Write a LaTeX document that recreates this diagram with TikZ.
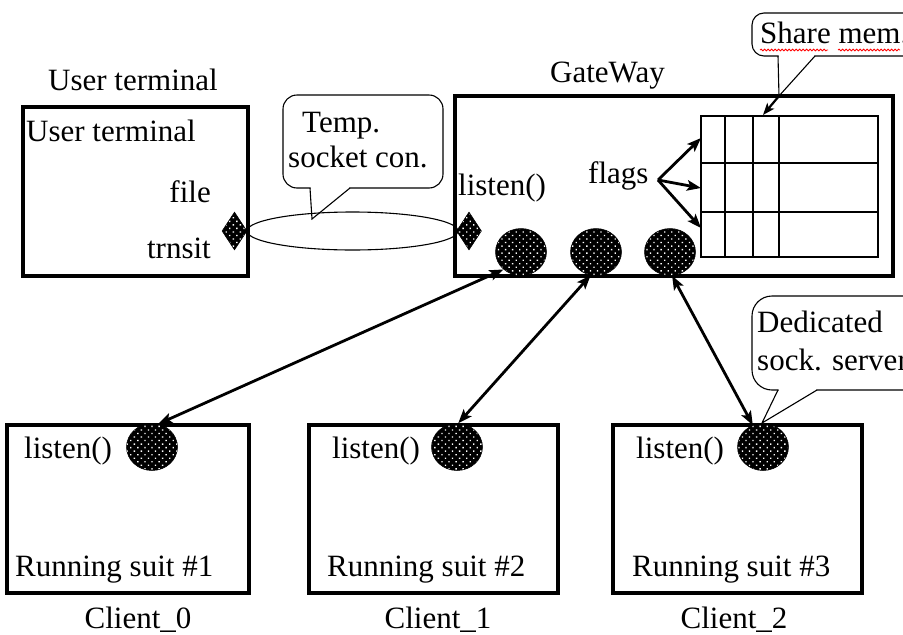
\documentclass[tikz,border=0pt]{standalone}
\usepackage{fontspec}
\setmainfont{Liberation Serif}
\usetikzlibrary{shapes.geometric, patterns.meta, arrows.meta, decorations.pathmorphing}
\tikzset{hd/.tip={Stealth[length=14pt, width=10.5pt, inset=3pt]}}
\begin{document}
\begin{tikzpicture}[x=1pt, y=-1pt,
  font=\fontsize{31}{37}\selectfont,
  box/.style={draw, line width=3.6pt, rectangle, inner sep=0pt},
  dotfill/.style={preaction={fill=black}, pattern={Dots[distance=5pt, radius=0.95pt, angle=45]}, pattern color=white},
  sock/.style={ellipse, dotfill, draw=black, line width=0.5pt, minimum width=51pt, minimum height=47pt, inner sep=0pt},
  port/.style={diamond, dotfill, draw=black, line width=0.5pt, minimum width=25pt, minimum height=38pt, inner sep=0pt},
  txt/.style={inner sep=0pt, anchor=base west},
  callbox/.style={draw, line width=1.1pt, fill=white, inner sep=0pt},
  arr/.style={line width=2.8pt, -{hd}},
  biarr/.style={line width=2.8pt, {hd}-{hd}},
]
\useasboundingbox (0,0) rectangle (903,635);
\fill[white] (0,0) rectangle (903,635);

% ---------- User terminal ----------
\node[txt] (utlabel) at (48,90) {User terminal};
\node[box, minimum width=225pt, minimum height=169pt] (ut) at (135.5,191.5) {};
\node[txt] (uttext) at (26,141) {User terminal};
\node[txt, anchor=base east] (file) at (211,202) {file};
\node[txt, anchor=base east] (trnsit) at (211,258) {trnsit};

% ---------- Temp. socket callout ----------
\node[callbox, rounded corners=14pt, minimum width=160pt, minimum height=93pt] (tempc) at (363,141.5) {};
\coordinate (temptip) at (312,219);
\fill[white] (310.6,186.5) -- (349.4,186.5) -- (349.4,189) -- (temptip) -- (310.6,189) -- cycle;
\draw[line width=1.1pt] (310,188) -- (temptip) -- (350,188);
\node[txt] (temp1) at (302,132) {Temp.};
\node[txt] (temp2) at (288,167) {socket con.};

% ---------- GateWay ----------
\node[txt] (gwlabel) at (550,82) {GateWay};
\node[box, minimum width=438pt, minimum height=180pt] (gw) at (674,186) {};
\node[txt] (gwlisten) at (458,195) {listen()};
\node[txt] (flags) at (588,183) {flags};

% shared memory table
\node[draw, line width=1.8pt, minimum width=177pt, minimum height=141pt, inner sep=0pt] (tbl) at (789.5,186.5) {};
\draw[line width=1.8pt] (725,116) -- (725,257) (753,116) -- (753,257) (779,116) -- (779,257)
  (701,163) -- (878,163) (701,212) -- (878,212);
\coordinate (flagsout) at (658,180);
\coordinate (t1) at (701,138);
\coordinate (t2) at (701,188);
\coordinate (t3) at (701,228);
\draw[arr] (flagsout) -- (t1);
\draw[arr] (flagsout) -- (t2);
\draw[arr] (flagsout) -- (t3);

% ---------- Share mem. callout ----------
\node[callbox, rounded corners=12pt, minimum width=183pt, minimum height=43pt] (sharec) at (843.5,34.5) {};
\coordinate (sharejoin) at (779,96);
\coordinate (sharetip) at (763,115);
\fill[white] (778.6,54) -- (814.4,54) -- (814.4,57.5) -- (sharejoin) -- (778.6,57.5) -- cycle;
\draw[line width=1.1pt] (778,56) -- (sharejoin) -- (815,56);
\draw[line width=2.2pt, -{Stealth[length=12pt, width=9pt, inset=3pt]}] (sharejoin) -- (sharetip);
\node[txt] (sharetext) at (760,43) {Share mem.};
\draw[red, line width=0.8pt, decorate, decoration={snake, amplitude=0.9pt, segment length=3.5pt}] (760,50) -- (828,50);
\draw[red, line width=0.8pt, decorate, decoration={snake, amplitude=0.9pt, segment length=3.5pt}] (838,50) -- (900,50);

% ---------- temporary socket connection ----------
\node[ellipse, draw, line width=1.1pt, minimum width=211pt, minimum height=38pt, inner sep=0pt] (tconn) at (352.5,231) {};
\node[port] (p1) at (234.5,231) {};
\node[port] (p2) at (469,231) {};

% gateway sockets
\node[sock] (g1) at (521,252) {};
\node[sock] (g2) at (596,252) {};
\node[sock] (g3) at (670,252) {};

% ---------- Clients ----------
\node[box, minimum width=242pt, minimum height=168pt] (c0) at (128,509) {};
\node[box, minimum width=249pt, minimum height=168pt] (c1) at (433.5,509) {};
\node[box, minimum width=249pt, minimum height=168pt] (c2) at (737.5,509) {};

\node[sock] (s0) at (152,447) {};
\node[sock] (s1) at (457,447) {};
\node[sock] (s2) at (763,447) {};

\node[txt] (l0) at (24,458) {listen()};
\node[txt] (l1) at (332,458) {listen()};
\node[txt] (l2) at (636,458) {listen()};
\node[txt] (r0) at (15,576) {Running suit \#1};
\node[txt] (r1) at (327,576) {Running suit \#2};
\node[txt] (r2) at (632,576) {Running suit \#3};
\node[inner sep=0pt, anchor=base] (n0) at (138,628) {Client\_0};
\node[inner sep=0pt, anchor=base] (n1) at (438,628) {Client\_1};
\node[inner sep=0pt, anchor=base] (n2) at (734,628) {Client\_2};

% ---------- Dedicated callout ----------
\node[callbox, rounded corners=20pt, minimum width=178pt, minimum height=94pt] (dedc) at (841,343) {};
\coordinate (dedtip) at (762,423);
\fill[white] (778.6,388) -- (816.4,388) -- (816.4,391.5) -- (dedtip) -- (778.6,391.5) -- cycle;
\draw[line width=1.1pt] (778,390) -- (dedtip) -- (817,390);
\node[txt] (ded1) at (757,332) {Dedicated};
\node[txt] (ded2) at (757,370) {sock. server};

% ---------- connections ----------
\draw[biarr] (g1.-135) -- (s0.75);
\draw[biarr] (g2.-103) -- (s1.87);
\draw[biarr] (g3.-85) -- (s2.115);
\end{tikzpicture}
\end{document}
